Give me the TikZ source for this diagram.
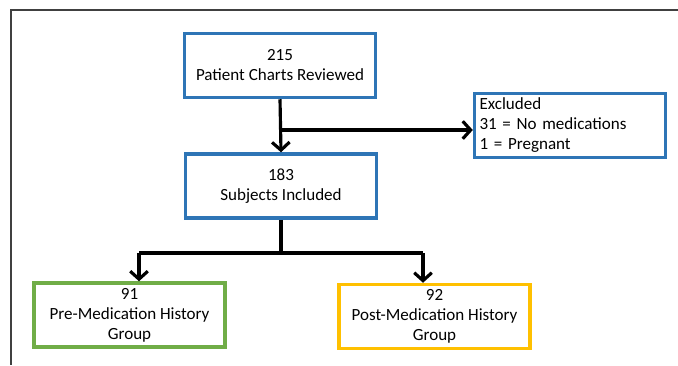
\documentclass[tikz,border=0pt]{standalone}
\usepackage{fontspec}
\setmainfont{Carlito}
\usetikzlibrary{arrows.meta,positioning}
\definecolor{chartblue}{RGB}{46,117,182}
\definecolor{pregreen}{RGB}{112,173,71}
\definecolor{postgold}{RGB}{255,192,0}

\tikzset{
  stage/.style={draw=chartblue, line width=2pt, minimum width=3.82cm, minimum height=1.28cm,
    align=center, inner sep=2pt, font=\fontsize{9.7}{11.4}\selectfont},
  flow/.style={line width=1.8pt, -{Straight Barb[length=4.5pt,width=10pt,line width=1.8pt]}},
  link/.style={line width=1.8pt},
}

\begin{document}
\begin{tikzpicture}[x=0.02cm,y=-0.02cm]
\useasboundingbox (0,0) rectangle (678,365);
\draw [line width=1pt, black!75] (678,10) -- (11,10) -- (11,365);

\node [stage] (charts) at (280,65.5) {215\\Patient Charts Reviewed};
\node [stage] (included) at (281,186) {183\\Subjects Included};
\node [stage, align=left, text width=3.62cm] (excluded) at (570,125.5)
  {Excluded\\31 = No medications\\1 = Pregnant};

\node [stage, draw=pregreen] (pre) at (129.5,315) {91\\Pre-Medication History\\Group};
\node [stage, draw=postgold] (post) at (434.5,316.5) {92\\Post-Medication History\\Group};

% charts to included, with exclusions split off
\coordinate (split) at (280,130);
\draw [flow] (charts.south) -- (included.north);
\draw [flow] (split) -- (excluded.west |- split);

% fork into the two groups
\coordinate (fork) at (281,253);
\coordinate (forkL) at (139,253);
\coordinate (forkR) at (423,253);
\draw [link] (included.south) -- (fork);
\draw [link] (forkL) -- (forkR);
\draw [flow] (forkL) -- (forkL |- pre.north);
\draw [flow] (forkR) -- (forkR |- post.north);
\end{tikzpicture}
\end{document}
